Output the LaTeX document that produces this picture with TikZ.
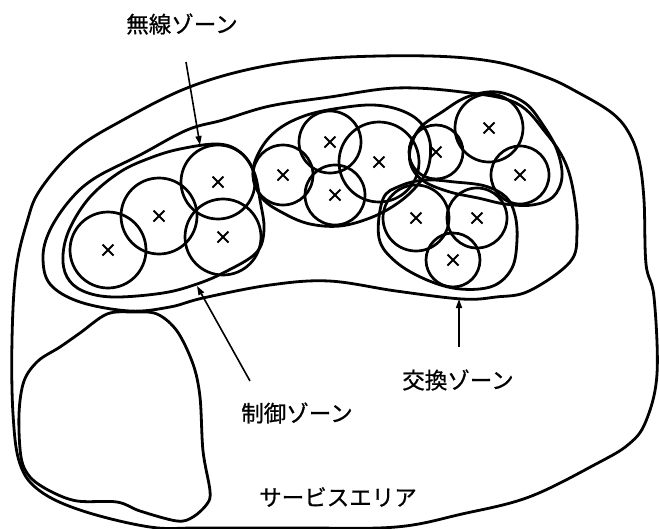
\documentclass[tikz,border=0pt]{standalone}
\usepackage{fontspec}
\newfontfamily\cjk[FakeBold=0.8]{Noto Sans CJK JP}
\usetikzlibrary{arrows.meta}
\begin{document}
\begin{tikzpicture}[x=1pt,y=-1pt,
  zline/.style={line width=2.8pt, line join=round},
  wz/.style={circle, draw, line width=2.7pt, inner sep=0pt},
  xline/.style={line width=1.8pt},
  lab/.style={font=\cjk\fontsize{22.5}{24}\selectfont, inner sep=0pt},
  arr/.style={line width=1.6pt, -{Triangle[length=9pt,width=6pt]}}]
\useasboundingbox (0,0) rectangle (659,528);
% service area
\draw[zline] plot[smooth cycle, tension=0.6] coordinates {
 (330,58) (429,56) (496,62) (546,77) (579,93) (612,113) (629,133) (639,160)
 (644,200) (646,264) (654,297) (657,374) (646,421) (629,444) (596,464)
 (529,497) (462,514) (396,527) (300,528) (200,528) (150,527) (83,511)
 (40,491) (20,464) (13,414) (12,340) (16,270) (27,222) (40,190) (75,150)
 (123,120) (187,88) (255,68)};
% lake
\draw[zline] plot[smooth cycle, tension=0.55] coordinates {
 (107,314) (133,312) (157,314) (177,331) (193,364) (200,397) (203,451)
 (210,491) (207,504) (193,517) (177,521) (140,511) (117,502) (77,501)
 (50,491) (30,477) (21,457) (19,414) (24,381) (38,361) (60,347) (80,333)};
% exchange zone
\draw[zline] plot[smooth cycle, tension=0.6] coordinates {
 (330,97) (396,88) (462,92) (516,103) (546,133) (565,162) (574,195)
 (577,233) (570,262) (529,291) (496,297) (462,299) (396,291) (329,281)
 (270,285) (203,298) (170,307) (130,311) (80,302) (50,284) (43,257)
 (50,230) (70,200) (95,178) (140,155) (187,130) (223,120) (270,106)};
% control zone left
\draw[zline] plot[smooth cycle, tension=0.6] coordinates {
 (218,144) (180,149) (150,158) (120,172) (90,197) (70,228) (63,255)
 (67,277) (83,291) (113,297) (163,293) (197,284) (225,272) (256,253)
 (264,230) (260,200) (254,172) (240,152)};
% control zone middle
\draw[zline] plot[smooth cycle, tension=0.6] coordinates {
 (253,172) (262,147) (280,128) (307,115) (340,108) (373,105) (400,110)
 (420,122) (430,142) (428,168) (415,188) (395,205) (370,218) (340,226)
 (310,224) (285,214) (262,198)};
% control zone right
\draw[zline] plot[smooth cycle, tension=0.6] coordinates {
 (410,150) (420,128) (442,112) (467,97) (497,92) (525,103) (543,125)
 (557,150) (562,177) (553,197) (532,205) (505,204) (478,198) (450,192)
 (425,182) (412,168)};
% control zone lower right
\draw[zline] plot[smooth cycle, tension=0.6] coordinates {
 (383,199) (400,186) (425,180) (455,182) (485,186) (506,197) (515,215)
 (517,240) (512,268) (493,286) (460,289) (427,280) (396,262) (379,238)};
% radio zones
\foreach \n/\x/\y/\d in {c1/108/250/76, c2/159/216/76, c3/218/182/74,
  c4/223/237/76, c5/283/175/60, c6/330/142/62, c7/335/195/60,
  c8/379/162/80, c9/436/152/54, c10/489/128/68, c11/520/175/58,
  c12/416/218/66, c13/477/218/60, c14/453/260/54}{
  \node[wz, minimum size=\d*1pt] (\n) at (\x,\y) {};
  \draw[xline] (\n.center) +(-5.5,-5.5) -- +(5.5,5.5) +(-5.5,5.5) -- +(5.5,-5.5);
}
% labels
\node[lab] (l1) at (182,24) {無線ゾーン};
\node[lab] (l2) at (297,413) {制御ゾーン};
\node[lab] (l3) at (458,380) {交換ゾーン};
\node[lab] (l4) at (338,497) {サービスエリア};
% arrows
\coordinate (s1) at (186,62);  \coordinate (t1) at (200,145);
\coordinate (s2) at (250,381); \coordinate (t2) at (197,286);
\coordinate (s3) at (459,347); \coordinate (t3) at (459,299);
\draw[arr] (s1) -- (t1);
\draw[arr] (s2) -- (t2);
\draw[arr] (s3) -- (t3);
\end{tikzpicture}
\end{document}
